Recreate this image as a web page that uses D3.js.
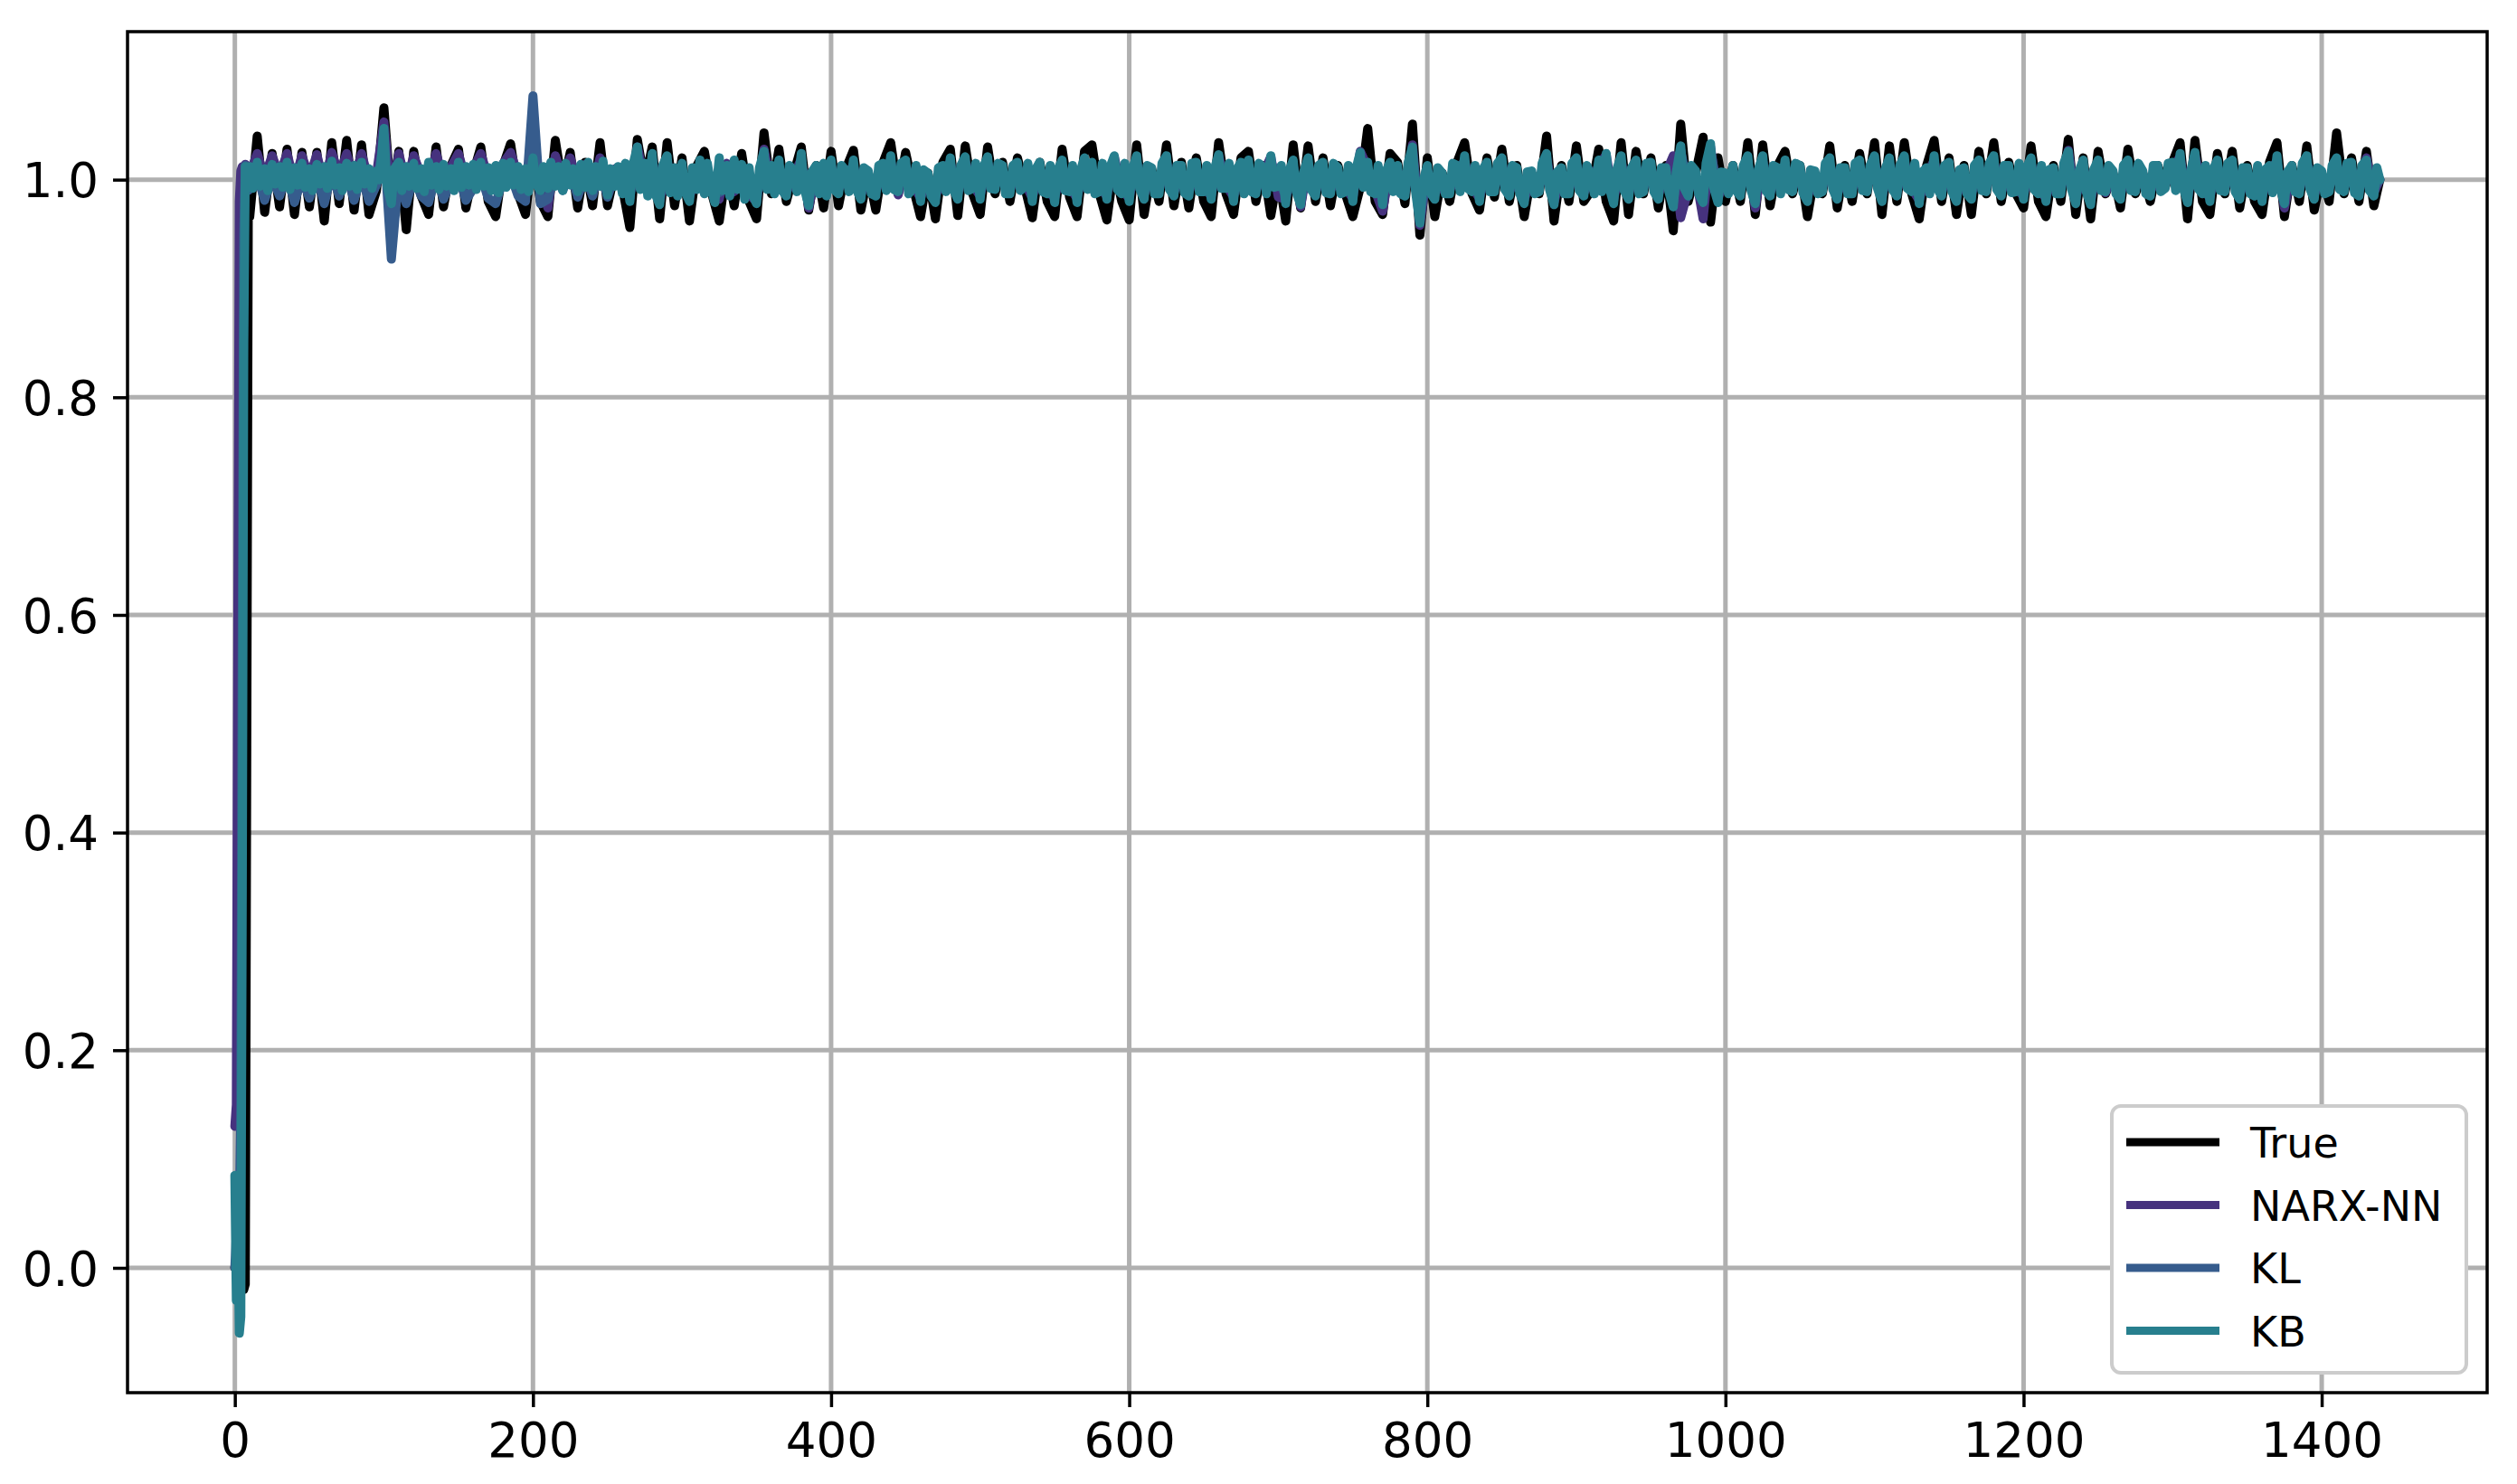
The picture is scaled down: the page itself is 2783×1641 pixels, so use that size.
<!DOCTYPE html>
<html>
<head>
<meta charset="utf-8">
<script src="https://cdn.jsdelivr.net/npm/d3@7"></script>
<style>
  body { margin: 0; background: #fff; }
  svg { display: block; font-family: "DejaVu Sans", sans-serif; }
</style>
</head>
<body>
<svg id="chart" width="2783" height="1641"></svg>
<script>
// sample index of every stored value: first ten one by one, then every 5th sample
var steps = d3.range(0, 10).concat(d3.range(10, 1440, 5), [1439]);
// KB is read a bit finer: two values in every 5 samples
var kbSteps = d3.range(0, 10)
    .concat(d3.merge(d3.range(10, 1440, 5).map(function (s) { return [s, s + 2]; })), [1439]);

var trueVals = [
  0.000, 0.010, 0.004, 0.000, -0.006, 0.002, -0.020, -0.015, 0.480, 0.972,
  0.966, 1.040, 0.970, 1.024, 0.975, 1.028, 0.968, 1.025, 0.975, 1.025,
  0.962, 1.034, 0.978, 1.036, 0.972, 1.032, 0.968, 0.990, 1.066, 0.980,
  1.026, 0.954, 1.026, 0.985, 0.968, 1.030, 0.975, 1.013, 1.028, 0.974,
  1.006, 1.030, 0.980, 0.966, 1.013, 1.033, 0.987, 0.968, 1.026, 0.980,
  0.966, 1.036, 0.993, 1.025, 0.974, 1.016, 0.976, 1.034, 0.976, 1.007,
  0.993, 0.956, 1.037, 0.998, 1.030, 0.964, 1.034, 0.976, 1.020, 0.962,
  1.013, 1.026, 0.987, 0.962, 1.013, 0.976, 1.024, 0.980, 0.964, 1.043,
  0.987, 1.028, 0.980, 1.006, 1.030, 0.972, 1.013, 0.974, 1.026, 0.976,
  1.010, 1.027, 0.972, 1.006, 0.972, 1.016, 1.034, 0.987, 1.025, 0.993,
  0.966, 1.006, 0.964, 1.016, 1.028, 0.967, 1.031, 0.987, 0.968, 1.030,
  0.987, 1.016, 0.980, 1.020, 0.993, 0.965, 1.016, 0.980, 0.966, 1.028,
  0.984, 0.966, 1.026, 1.032, 0.987, 0.963, 1.013, 0.980, 0.963, 1.032,
  0.968, 1.010, 0.980, 1.032, 0.976, 1.016, 0.974, 1.020, 0.980, 0.966,
  1.034, 0.987, 0.968, 1.020, 1.026, 0.980, 1.013, 0.967, 1.006, 0.962,
  1.032, 0.974, 1.031, 0.980, 1.020, 0.976, 1.013, 0.987, 0.966, 0.993,
  1.047, 0.980, 0.968, 1.024, 1.016, 0.978, 1.051, 0.949, 1.020, 0.966,
  1.006, 0.980, 1.016, 1.034, 0.987, 0.972, 1.020, 0.984, 1.028, 0.980,
  1.013, 0.966, 1.006, 0.987, 1.040, 0.962, 1.013, 0.980, 1.031, 0.980,
  0.990, 1.028, 0.980, 0.962, 1.034, 0.968, 1.026, 0.987, 1.020, 0.974,
  1.013, 0.953, 1.051, 0.980, 1.006, 1.039, 0.961, 1.020, 0.980, 1.013,
  0.980, 1.034, 0.968, 1.032, 0.976, 1.013, 1.026, 0.987, 1.013, 0.966,
  1.006, 0.987, 1.031, 0.974, 1.013, 0.980, 1.024, 0.987, 1.034, 0.968,
  1.031, 0.980, 1.034, 0.987, 0.964, 1.013, 1.036, 0.980, 1.020, 0.968,
  1.013, 0.968, 1.026, 0.987, 1.034, 0.980, 1.016, 0.987, 0.974, 1.031,
  0.980, 0.966, 1.013, 0.980, 1.037, 0.968, 1.020, 0.964, 1.026, 0.987,
  1.006, 0.974, 1.028, 0.987, 1.006, 0.980, 1.013, 0.993, 1.016, 1.034,
  0.964, 1.036, 0.980, 0.968, 1.024, 0.987, 1.026, 0.974, 1.013, 0.980,
  0.968, 1.016, 1.034, 0.966, 1.013, 0.980, 1.031, 0.972, 1.006, 0.980,
  1.043, 0.987, 1.020, 0.980, 1.026, 0.976, 1.000
];

var narxVals = [
  0.130, 0.150, 0.600, 0.980, 1.008, 1.012, 1.004, 1.014, 1.006, 1.012,
  1.006, 1.024, 1.002, 1.022, 1.004, 1.024, 0.998, 1.022, 1.002, 1.023,
  0.996, 1.025, 1.004, 1.024, 1.000, 1.024, 0.999, 1.005, 1.053, 0.985,
  1.024, 0.996, 1.022, 1.004, 0.998, 1.024, 1.001, 1.012, 1.024, 1.000,
  1.010, 1.024, 1.002, 0.996, 1.015, 1.025, 1.004, 0.998, 1.020, 0.998,
  0.974, 1.022, 1.002, 1.020, 0.996, 1.014, 0.994, 1.020, 0.990, 1.010,
  0.998, 0.983, 1.030, 1.000, 1.019, 0.980, 1.017, 0.991, 1.009, 0.984,
  1.006, 1.013, 0.995, 0.982, 1.015, 0.989, 1.013, 0.986, 0.980, 1.028,
  0.995, 1.013, 0.988, 1.004, 1.019, 0.974, 1.008, 0.989, 1.013, 0.991,
  1.004, 1.013, 0.986, 1.004, 0.989, 1.009, 1.017, 0.986, 1.013, 0.995,
  0.983, 1.002, 0.983, 1.009, 1.016, 0.986, 1.017, 0.995, 0.985, 1.016,
  0.994, 1.009, 0.990, 1.012, 0.997, 0.983, 1.011, 0.990, 0.983, 1.013,
  0.993, 0.983, 1.015, 1.011, 0.993, 0.985, 1.021, 0.990, 0.983, 1.017,
  0.986, 1.006, 0.990, 1.017, 0.988, 1.008, 0.988, 1.011, 0.993, 0.985,
  1.022, 0.995, 0.984, 1.011, 1.013, 0.990, 1.006, 1.021, 0.984, 0.982,
  1.013, 0.975, 1.015, 0.988, 1.011, 0.990, 1.006, 0.992, 0.983, 1.026,
  1.011, 0.990, 0.971, 1.011, 1.009, 0.988, 1.032, 0.958, 1.009, 0.986,
  1.002, 0.990, 1.009, 1.017, 0.993, 0.983, 1.011, 0.992, 1.015, 0.988,
  1.006, 0.981, 1.004, 0.992, 1.021, 0.979, 1.006, 0.990, 1.015, 0.988,
  1.000, 1.013, 1.023, 0.981, 1.017, 0.986, 1.013, 0.992, 1.011, 0.986,
  1.006, 1.022, 0.965, 0.990, 1.004, 0.964, 1.030, 0.983, 1.002, 1.008,
  0.990, 1.016, 0.974, 1.017, 0.988, 1.006, 1.013, 0.992, 1.008, 0.984,
  1.004, 0.992, 1.015, 0.986, 1.006, 0.990, 1.013, 0.992, 1.017, 0.984,
  1.015, 0.988, 1.017, 0.992, 0.981, 1.006, 1.017, 0.988, 1.011, 0.984,
  1.006, 0.986, 1.013, 0.992, 1.017, 0.988, 1.008, 0.992, 0.985, 1.015,
  0.991, 0.983, 1.006, 0.990, 1.027, 0.982, 1.013, 0.980, 1.013, 0.988,
  1.004, 0.986, 1.013, 0.992, 1.004, 0.988, 1.008, 0.995, 1.011, 1.021,
  0.982, 1.023, 0.990, 0.984, 1.013, 0.992, 1.013, 0.986, 1.006, 0.988,
  0.984, 1.008, 1.017, 0.974, 1.008, 0.990, 1.017, 0.986, 1.004, 0.992,
  1.015, 0.992, 1.011, 0.988, 1.020, 0.988, 1.000
];

var klVals = [
  0.000, 0.030, 0.020, 0.050, 0.150, 0.600, 0.950, 1.013, 0.995, 0.990,
  0.992, 1.004, 0.981, 1.002, 0.985, 1.004, 0.979, 1.002, 0.983, 1.003,
  0.978, 1.006, 0.985, 1.005, 0.981, 1.004, 0.980, 0.995, 1.035, 0.927,
  1.004, 0.978, 1.002, 0.985, 0.979, 1.004, 0.982, 0.998, 1.004, 0.981,
  0.992, 1.004, 0.983, 0.978, 1.000, 1.005, 0.985, 0.980, 1.077, 0.978,
  0.982, 1.008, 0.990, 1.008, 0.984, 1.004, 0.985, 1.010, 0.984, 1.004,
  0.998, 0.988, 1.024, 1.000, 1.015, 0.985, 1.013, 0.993, 1.007, 0.988,
  1.005, 1.010, 0.997, 0.988, 1.012, 0.992, 1.010, 0.990, 0.987, 1.021,
  0.997, 1.010, 0.992, 1.003, 1.015, 0.980, 1.007, 0.992, 1.010, 0.993,
  1.003, 1.010, 0.990, 1.003, 0.992, 1.007, 1.013, 0.995, 1.010, 0.997,
  0.988, 1.002, 0.987, 1.007, 1.012, 0.990, 1.013, 0.997, 0.990, 1.013,
  0.996, 1.007, 0.993, 1.008, 0.998, 0.988, 1.008, 0.993, 0.987, 1.010,
  0.995, 0.987, 1.012, 1.008, 0.995, 0.990, 1.017, 0.993, 0.988, 1.013,
  0.990, 1.005, 0.993, 1.013, 0.992, 1.007, 0.992, 1.008, 0.995, 0.990,
  1.018, 0.997, 0.988, 1.008, 1.010, 0.993, 1.005, 1.017, 0.998, 0.986,
  1.010, 0.980, 1.012, 0.992, 1.008, 0.993, 1.005, 0.995, 0.988, 1.020,
  1.008, 0.993, 0.985, 1.008, 1.007, 0.992, 1.026, 0.965, 1.007, 0.990,
  1.002, 0.993, 1.007, 1.013, 0.995, 0.988, 1.008, 0.995, 1.012, 0.992,
  1.005, 0.986, 1.003, 0.995, 1.017, 0.985, 1.005, 0.993, 1.012, 0.992,
  1.000, 1.010, 1.018, 0.986, 1.013, 0.990, 1.010, 0.995, 1.008, 0.990,
  1.005, 0.978, 1.027, 0.992, 1.003, 0.987, 1.028, 0.987, 1.002, 1.007,
  0.992, 1.013, 0.986, 1.013, 0.992, 1.005, 1.010, 0.995, 1.007, 0.988,
  1.003, 0.995, 1.012, 0.990, 1.005, 0.993, 1.010, 0.995, 1.013, 0.988,
  1.012, 0.992, 1.013, 0.995, 0.986, 1.005, 1.013, 0.992, 1.008, 0.988,
  1.005, 0.990, 1.010, 0.995, 1.013, 0.992, 1.007, 0.995, 0.990, 1.012,
  0.993, 0.988, 1.005, 0.993, 1.022, 0.986, 1.010, 0.985, 1.010, 0.995,
  1.003, 0.990, 1.010, 0.995, 1.003, 0.992, 1.007, 0.997, 1.008, 1.017,
  0.987, 1.018, 0.993, 0.988, 1.010, 0.995, 1.010, 0.990, 1.005, 0.992,
  0.988, 1.007, 1.013, 0.986, 1.007, 0.993, 1.013, 0.990, 1.003, 0.995,
  1.012, 0.995, 1.008, 0.992, 1.010, 0.992, 1.000
];

var kbVals = [
  0.085, -0.030, 0.050, -0.060, -0.045, 0.350, 0.850, 1.012, 1.000, 1.005,
  1.012, 0.992, 1.016, 0.994, 1.010, 0.990, 1.014, 0.996, 1.012, 0.993, 1.016, 0.991, 1.011, 0.995, 1.015, 0.993, 1.010, 0.990, 1.014, 0.996,
  1.012, 0.992, 1.017, 0.995, 1.011, 0.990, 1.015, 0.994, 1.013, 0.991, 1.016, 0.996, 1.010, 0.992, 1.008, 1.000, 1.047, 0.995, 0.978, 1.010,
  1.016, 0.990, 1.012, 0.994, 1.015, 0.992, 1.010, 0.989, 1.016, 0.995, 1.012, 0.991, 1.014, 0.994, 1.010, 0.990, 1.016, 0.993, 1.012, 0.995,
  1.014, 0.991, 1.016, 0.994, 1.011, 0.990, 1.013, 0.988, 1.015, 0.993, 1.016, 0.995, 1.012, 0.991, 1.010, 0.989, 1.020, 0.996, 0.990, 1.012,
  0.992, 1.016, 0.994, 1.012, 0.990, 1.015, 0.995, 1.010, 0.989, 1.014, 0.993, 1.016, 0.990, 1.012, 0.994, 1.017, 0.986, 1.010, 0.994, 1.012,
  0.987, 1.015, 0.980, 1.013, 1.030, 0.991, 1.015, 0.985, 1.024, 0.987, 0.977, 1.013, 1.022, 0.988, 1.011, 0.985, 1.015, 0.989, 0.980, 1.011,
  0.991, 1.018, 0.987, 1.015, 0.989, 0.979, 1.020, 0.990, 1.013, 0.985, 1.018, 0.991, 1.014, 0.982, 1.011, 0.987, 0.978, 1.011, 1.026, 0.991,
  1.013, 0.987, 1.018, 0.990, 0.985, 1.013, 1.008, 0.989, 1.024, 0.992, 0.976, 1.007, 1.013, 0.987, 1.015, 0.985, 1.018, 0.991, 0.987, 1.013,
  1.008, 0.989, 1.018, 0.991, 0.982, 1.011, 1.008, 0.987, 0.985, 1.013, 1.015, 0.990, 1.022, 0.991, 0.989, 1.015, 1.018, 0.987, 0.992, 1.013,
  0.980, 1.009, 1.006, 0.985, 0.979, 1.011, 1.013, 0.989, 1.020, 0.991, 0.982, 1.013, 1.021, 0.990, 0.992, 1.015, 0.982, 1.011, 1.021, 0.992,
  0.991, 1.015, 1.013, 0.987, 0.987, 1.013, 1.016, 0.990, 0.994, 1.015, 0.980, 1.009, 1.016, 0.989, 0.987, 1.013, 0.979, 1.009, 1.018, 0.990,
  0.989, 1.013, 0.979, 1.007, 1.020, 0.991, 1.016, 0.987, 0.989, 1.015, 0.982, 1.011, 1.022, 0.991, 0.987, 1.015, 0.980, 1.009, 1.022, 0.992,
  0.982, 1.013, 1.011, 0.987, 0.987, 1.015, 1.022, 0.991, 0.985, 1.013, 1.013, 0.988, 0.985, 1.015, 1.016, 0.989, 0.989, 1.013, 0.982, 1.009,
  1.023, 0.992, 0.992, 1.015, 0.980, 1.009, 1.016, 0.987, 1.018, 0.989, 0.987, 1.015, 1.011, 0.987, 1.022, 0.993, 0.994, 1.013, 0.978, 1.007,
  1.018, 0.989, 0.977, 1.007, 1.020, 0.991, 0.985, 1.013, 1.016, 0.988, 0.987, 1.015, 1.011, 0.987, 0.989, 1.013, 0.980, 1.009, 1.025, 0.993,
  1.016, 0.989, 0.987, 1.013, 0.977, 1.007, 1.016, 0.989, 1.013, 0.987, 0.985, 1.015, 1.030, 0.990, 0.960, 0.998, 1.013, 0.988, 0.982, 1.011,
  1.006, 0.987, 0.987, 1.015, 1.013, 0.989, 1.022, 0.992, 0.989, 1.013, 0.980, 1.009, 1.016, 0.989, 0.989, 1.015, 1.020, 0.991, 0.985, 1.013,
  1.011, 0.987, 0.978, 1.007, 1.008, 0.987, 0.989, 1.015, 1.024, 0.991, 0.977, 1.007, 1.011, 0.987, 0.987, 1.015, 1.020, 0.990, 0.985, 1.013,
  1.003, 0.987, 1.018, 0.989, 1.024, 0.993, 0.978, 1.009, 1.022, 0.990, 0.982, 1.011, 1.018, 0.987, 0.989, 1.015, 1.016, 0.989, 0.982, 1.011,
  1.011, 0.989, 0.975, 1.007, 1.031, 0.993, 0.985, 1.013, 1.008, 0.987, 0.979, 1.015, 1.033, 0.993, 0.979, 1.007, 1.006, 0.987, 1.013, 0.990,
  0.985, 1.013, 1.022, 0.991, 0.978, 1.009, 1.022, 0.990, 0.985, 1.013, 1.011, 0.987, 1.018, 0.991, 0.989, 1.015, 1.013, 0.988, 0.980, 1.009,
  1.008, 0.987, 0.989, 1.015, 1.020, 0.991, 0.982, 1.011, 1.011, 0.987, 0.987, 1.015, 1.018, 0.990, 0.989, 1.013, 1.022, 0.992, 0.980, 1.009,
  1.020, 0.991, 0.985, 1.013, 1.022, 0.992, 0.989, 1.015, 0.978, 1.007, 1.011, 0.987, 1.022, 0.992, 0.985, 1.013, 1.016, 0.989, 0.980, 1.009,
  1.011, 0.987, 0.982, 1.013, 1.018, 0.990, 0.989, 1.015, 1.022, 0.991, 0.985, 1.013, 1.013, 0.988, 0.989, 1.015, 0.982, 1.011, 1.020, 0.991,
  0.987, 1.013, 0.980, 1.009, 1.011, 0.987, 0.987, 1.015, 1.026, 0.992, 0.978, 1.007, 1.018, 0.989, 0.977, 1.009, 1.018, 0.990, 0.989, 1.013,
  1.008, 0.987, 0.982, 1.013, 1.018, 0.990, 0.989, 1.015, 1.008, 0.987, 0.985, 1.013, 1.013, 0.989, 0.992, 1.015, 1.016, 0.990, 1.024, 0.993,
  0.979, 1.007, 1.025, 0.992, 0.987, 1.013, 0.980, 1.009, 1.018, 0.990, 0.989, 1.015, 1.018, 0.989, 0.982, 1.011, 1.011, 0.987, 0.985, 1.013,
  0.980, 1.009, 1.013, 0.988, 1.022, 0.993, 0.978, 1.007, 1.013, 0.989, 0.987, 1.015, 1.022, 0.992, 0.982, 1.011, 1.008, 0.987, 0.989, 1.013,
  1.020, 0.991, 0.989, 1.015, 1.016, 0.988, 0.985, 1.013, 1.018, 0.990, 0.985, 1.011, 1.000
];

var seriesNames = ['True', 'NARX-NN', 'KL', 'KB'];
var seriesVals = [trueVals, narxVals, klVals, kbVals];
var seriesSteps = [steps, steps, steps, kbSteps];
var seriesColors = ['#000000', d3.interpolateViridis(1 / 7), d3.interpolateViridis(2 / 7), d3.interpolateViridis(3 / 7)];

var xTicks = [0, 200, 400, 600, 800, 1000, 1200, 1400];
var yTicks = [0.0, 0.2, 0.4, 0.6, 0.8, 1.0];

// plot box in pixels
var plotLeft = 141, plotRight = 2750, plotTop = 35, plotBottom = 1540;

var svg = d3.select('#chart');

var x = d3.scaleLinear()
    .domain([-72, 1511])
    .range([plotLeft, plotRight]);

var y = d3.scaleLinear()
    .domain([-0.1147, 1.136])
    .range([plotBottom, plotTop]);

// grid
var grid = svg.append('g');
grid.selectAll('.gx')
    .data(xTicks)
    .enter().append('line')
    .attr('x1', function (d) { return x(d); })
    .attr('x2', function (d) { return x(d); })
    .attr('y1', plotTop).attr('y2', plotBottom)
    .attr('stroke', '#b0b0b0').attr('stroke-width', 5);
grid.selectAll('.gy')
    .data(yTicks)
    .enter().append('line')
    .attr('y1', function (d) { return y(d); })
    .attr('y2', function (d) { return y(d); })
    .attr('x1', plotLeft).attr('x2', plotRight)
    .attr('stroke', '#b0b0b0').attr('stroke-width', 5);

// lines
svg.append('clipPath').attr('id', 'plotclip')
    .append('rect')
    .attr('x', plotLeft).attr('y', plotTop)
    .attr('width', plotRight - plotLeft).attr('height', plotBottom - plotTop);

var line = d3.line()
    .x(function (d) { return x(d[0]); })
    .y(function (d) { return y(d[1]); });

svg.append('g')
    .attr('clip-path', 'url(#plotclip)')
    .selectAll('path')
    .data(seriesVals)
    .enter().append('path')
    .attr('d', function (vals, i) { return line(d3.zip(seriesSteps[i], vals)); })
    .attr('fill', 'none')
    .attr('stroke', function (d, i) { return seriesColors[i]; })
    .attr('stroke-width', 10)
    .attr('stroke-linejoin', 'round')
    .attr('stroke-linecap', 'round');

// frame
svg.append('rect')
    .attr('x', plotLeft).attr('y', plotTop)
    .attr('width', plotRight - plotLeft).attr('height', plotBottom - plotTop)
    .attr('fill', 'none').attr('stroke', '#000').attr('stroke-width', 3.5);

// axes
var xAxis = d3.axisBottom(x).tickValues(xTicks).tickSize(16).tickPadding(17)
    .tickFormat(d3.format('d'));
var yAxis = d3.axisLeft(y).tickValues(yTicks).tickSize(16).tickPadding(16)
    .tickFormat(d3.format('.1f'));

var gx = svg.append('g')
    .attr('transform', 'translate(0,' + plotBottom + ')')
    .call(xAxis);
var gy = svg.append('g')
    .attr('transform', 'translate(' + plotLeft + ',0)')
    .call(yAxis);

[gx, gy].forEach(function (g) {
    g.select('.domain').remove();
    g.selectAll('.tick line').attr('stroke', '#000').attr('stroke-width', 3.5);
    g.selectAll('.tick text')
        .attr('fill', '#000')
        .style('font-size', '53px')
        .style('font-family', '"DejaVu Sans", sans-serif');
});
gy.selectAll('.tick text').attr('dy', '0.36em');

// legend
var legend = svg.append('g');
legend.append('rect')
    .attr('x', 2335).attr('y', 1223)
    .attr('width', 392).attr('height', 295)
    .attr('rx', 10).attr('ry', 10)
    .attr('fill', '#fff')
    .attr('stroke', '#cccccc').attr('stroke-width', 4);

var items = legend.selectAll('.item')
    .data(seriesNames)
    .enter().append('g')
    .attr('transform', function (d, i) { return 'translate(0,' + (1263 + i * 69.5) + ')'; });
items.append('line')
    .attr('x1', 2351).attr('x2', 2454)
    .attr('stroke', function (d, i) { return seriesColors[i]; })
    .attr('stroke-width', 9);
items.append('text')
    .attr('x', 2488).attr('y', 17)
    .style('font-size', '46px')
    .attr('fill', '#000')
    .text(function (d) { return d; });

// length check (only shows something if an array is off)
seriesVals.forEach(function (v, i) {
    if (v.length !== seriesSteps[i].length) {
        svg.append('text').attr('x', 300).attr('y', 400 + i * 60)
            .attr('fill', 'red').style('font-size', '40px')
            .text(seriesNames[i] + ' ' + v.length + ' vs ' + seriesSteps[i].length);
    }
});
</script>
</body>
</html>
